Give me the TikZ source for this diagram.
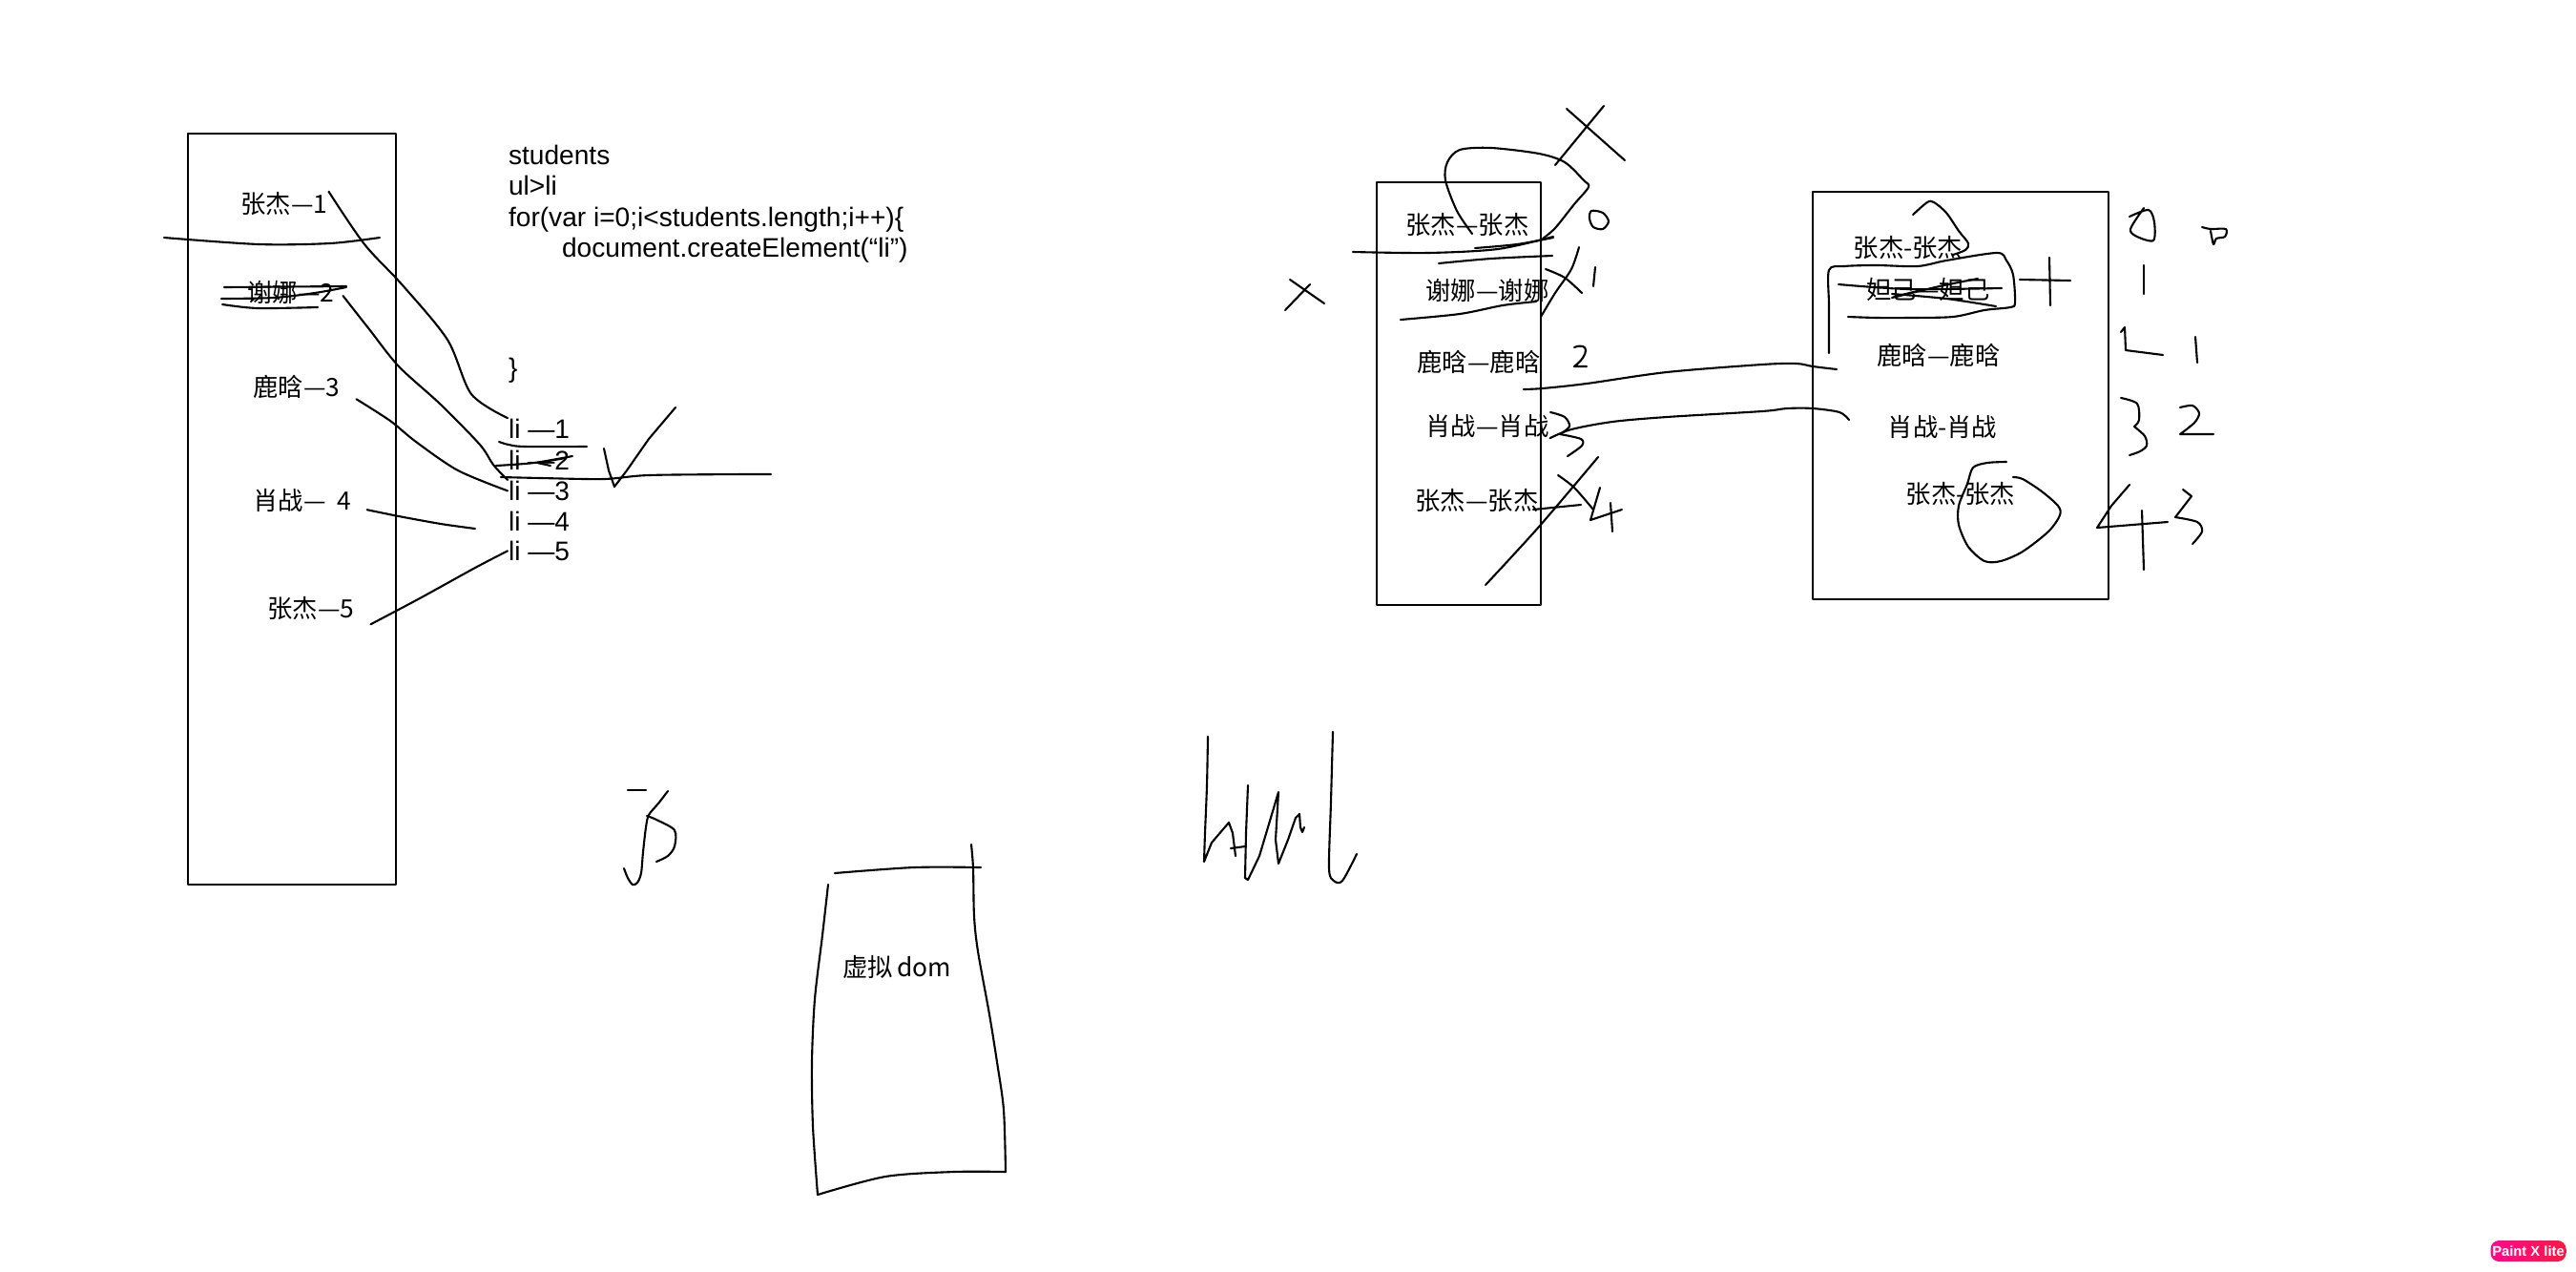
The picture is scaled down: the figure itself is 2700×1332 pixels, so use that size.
\documentclass[tikz,border=0pt]{standalone}
\usepackage{fontspec}
\setmainfont{Liberation Sans}
\newfontfamily\cjk{Noto Sans CJK SC}
\definecolor{badgeleft}{HTML}{FF0A8C}
\definecolor{badgeright}{HTML}{FF1744}

\begin{document}
\begin{tikzpicture}
[x=0.1mm, y=-0.1mm, line width=0.6pt, line cap=round, line join=round,
box/.style={draw, line width=0.7pt},
entry/.style={font=\cjk\fontsize{7.5}{9}\selectfont, inner sep=0pt},
code/.style={font=\fontsize{8}{9.6}\selectfont, inner sep=0pt, anchor=base west},
ink/.style={line width=0.6pt},
badge/.style={rounded corners=2.5pt, left color=badgeleft, right color=badgeright, text=white, font=\bfseries\fontsize{4.2}{5}\selectfont, minimum width=7.9mm, minimum height=2.2mm, inner sep=0pt}]

\path[use as bounding box, fill=white] (0,0) rectangle (2700,1332);

\draw[box] (197,140) rectangle (415,927);
\node[entry] (zj1) at (298,214) {张杰—1};
\node[entry] (xn2) at (305,306) {谢娜—2};
\node[entry] (lh3) at (311,405) {鹿晗—3};
\node[entry] (xz4) at (317,524) {肖战—\hspace{3.5pt}4};
\node[entry] (zj5) at (326,638) {张杰—5};

\node[code] (stu) at (532,172.7) {students};
\node[code] (ulli) at (532,204.4) {ul>li};
\node[code] (forl) at (532,237.7) {for(var i=0;i<students.length;i++)\{};
\node[code] (crel) at (588,269.4) {document.createElement(“li”)};
\node[code] (brace) at (532,395) {\}};
\node[code] (li1) at (532,459.5) {li —1};
\node[code] (li2) at (532,492.4) {li —2};
\node[code] (li3) at (532,524.4) {li —3};
\node[code] (li4) at (532,556) {li —4};
\node[code] (li5) at (532,587.4) {li —5};
\coordinate (tail4) at (498,554);

\draw[ink] plot[smooth] coordinates {(zj1.north east) (382,256) (422,299) (469,356) (494,413) (li1.north west)};
\draw[ink] plot[smooth] coordinates {([shift={(8,4)}]xn2.east) (387,345) (418,384) (462,424) (503,466) (517,487) (li3.north west)};
\draw[ink] plot[smooth] coordinates {([shift={(16,0)}]lh3.south east) (409,441) (436,463) (480,493) (li3.west)};
\draw[ink] plot[smooth] coordinates {([shift={(15,-3)}]xz4.south east) (418,541) (462,549) (tail4)};
\draw[ink] plot[smooth] coordinates {([shift={(16,3)}]zj5.south east) (440,627) (498,595) (li5.west)};

\draw[ink] plot[smooth] coordinates {(172,249) (271,256) (346,255) (398,249)};
\draw[ink] (235,301) -- (363,300);
\draw[ink] plot[smooth] coordinates {(232,313) (287,312) (330,307) (363,301)};
\draw[ink] plot[smooth] coordinates {(233,319) (270,323) (333,322)};
\draw[ink] plot[smooth] coordinates {(523,463) (533,466) (550,468) (615,468)};
\draw[ink] plot[smooth] coordinates {(520,488) (560,485) (600,478)};
\draw[ink] (593,480) -- (563,485) -- (577,488);
\draw[ink] plot[smooth] coordinates {(525,500) (567,501) (633,502) (680,498) (780,497) (808,497)};
\draw[ink] (633,470) -- (638,493) -- (644,510) -- (657,493) -- (680,460) -- (708,427);

\draw[ink] (658,828) -- (677,828);
\draw[ink] plot[smooth] coordinates {(700,829) (690,842) (680,854) (677,867) (674,893) (672,915) (668,925) (663,927) (658,920) (654,910)};
\draw[ink] plot[smooth] coordinates {(678,855) (688,859) (707,870) (707,887) (700,897) (688,903)};

\node[entry] (vdom) at (940,1013) {虚拟\,dom};
\draw[ink] plot[smooth] coordinates {(875,915) (958,909) (1028,909)};
\draw[ink] plot[smooth] coordinates {(868,927) (862,980) (854,1047) (851,1113) (852,1180) (857,1252)};
\draw[ink] plot[smooth] coordinates {(857,1252) (928,1233) (1000,1228) (1054,1228)};
\draw[ink] plot[smooth] coordinates {(1054,1228) (1052,1163) (1045,1113) (1037,1063) (1025,997) (1021,960) (1020,910) (1018,885)};

\draw[ink] plot[smooth] coordinates {(1266,772) (1265,823) (1263,873) (1262,903)} -- (1270,883) -- (1288,862) -- (1292,873) -- (1295,897);
\draw[ink] (1290,889) -- (1305,887);
\draw[ink] (1308,823) -- (1306,873) -- (1305,920) -- (1308,922) -- (1320,897) -- (1340,830) -- (1337,880) -- (1340,905) -- (1350,880) -- (1358,857) -- (1362,853) -- (1363,867) -- (1365,872) -- (1367,867);
\draw[ink] plot[smooth] coordinates {(1397,767) (1395,840) (1393,910) (1398,923) (1407,923) (1422,895)};

\draw[box] (1443,191) rectangle (1615,634);
\node[entry] (m1) at (1538,236) {张杰—张杰};
\node[entry] (m2) at (1559,304) {谢娜—谢娜};
\node[entry] (m3) at (1550,379) {鹿晗—鹿晗};
\node[entry] (m4) at (1559,446) {肖战—肖战};
\node[entry] (m5) at (1548,525) {张杰—张杰};

\draw[box] (1900,201) rectangle (2210,628);
\node[entry] (r1) at (2000,260) {张杰-张杰};
\node[entry] (r2) at (2021,303) {妲己—妲己};
\node[entry] (r3) at (2032,372) {鹿晗—鹿晗};
\node[entry] (r4) at (2036,447) {肖战-肖战};
\node[entry] (r5) at (2055,518) {张杰-张杰};

\coordinate (from3) at (1597,408);
\coordinate (to3) at (1925,387);
\coordinate (to4) at (1938,440);
\draw[ink] plot[smooth] coordinates {(from3) (1617,407) (1663,402) (1747,390) (1847,382) (1883,381) (1900,384) (to3)};
\draw[ink] plot[smooth] coordinates {(m4.south east) (1647,450) (1690,442) (1747,437) (1847,431) (1873,428) (1900,428) (1928,432) (to4)};

\draw[ink] plot[smooth] coordinates {(1543,245) (1527,221) (1515,189) (1517,170) (1530,157) (1563,155) (1613,161) (1640,170) (1660,189) (1665,196) (1650,214) (1630,239) (1617,250)};
\draw[ink] plot[smooth] coordinates {(1418,264) (1497,265) (1570,261) (1628,248)};
\draw[ink] plot[smooth] coordinates {(1546,260) (1590,256) (1628,249)};
\draw[ink] plot[smooth] coordinates {(1508,276) (1563,271) (1627,268)};
\draw[ink] plot[smooth] coordinates {(1468,335) (1530,329) (1575,320) (1610,316)};
\draw[ink] (1681,111) -- (1630,173);
\draw[ink] (1642,114) -- (1703,168);
\draw[ink] plot[smooth cycle] coordinates {(1668,221) (1680,223) (1686,232) (1680,240) (1670,238) (1666,229)};
\draw[ink] plot[smooth] coordinates {(1620,282) (1640,291) (1658,307)};
\draw[ink] plot[smooth] coordinates {(1655,259) (1647,282) (1630,307) (1615,332)};
\draw[ink] (1672,280) -- (1670,300);
\draw[ink] (1650,364) .. controls (1666,358) and (1666,372) .. (1650,384) -- (1663,384);
\draw[ink] plot[smooth] coordinates {(1625,432) (1640,437) (1645,447) (1635,455)};
\draw[ink] plot[smooth] coordinates {(1635,455) (1657,460) (1658,467) (1643,478)};
\draw[ink] plot[smooth] coordinates {(1675,479) (1613,552) (1557,613)};
\draw[ink] plot[smooth] coordinates {(1633,498) (1650,511) (1670,534)};
\draw[ink] (1607,534) -- (1657,529);
\draw[ink] (1677,511) -- (1667,545) -- (1700,534);
\draw[ink] (1688,527) -- (1690,557);
\draw[ink] (1347,325) -- (1373,298);
\draw[ink] (1352,293) -- (1388,318);

\draw[ink] plot[smooth] coordinates {(2005,225) (2020,212) (2027,212) (2040,223) (2053,242) (2063,255) (2060,262) (2047,267)};
\draw[ink] plot[smooth] coordinates {(1917,370) (1917,320) (1917,283) (1933,279) (1967,278) (2010,279) (2040,273) (2093,265) (2103,273) (2110,288) (2112,317) (2107,322) (2080,325) (2047,332) (2000,333) (1967,333) (1937,332)};
\draw[ink] plot[smooth] coordinates {(1927,298) (2000,303) (2098,302)};
\draw[ink] plot[smooth] coordinates {(1983,312) (2033,300) (2073,292)};
\draw[ink] plot[smooth] coordinates {(1983,308) (2040,313) (2092,321)};
\draw[ink] (1985,311) -- (2010,305);
\draw[ink] (2117,293) -- (2170,294);
\draw[ink] (2148,270) -- (2149,320);
\draw[ink] plot[smooth] coordinates {(2247,218) (2233,240) (2240,248) (2257,252) (2258,233) (2252,220) (2232,227)};
\draw[ink] plot[smooth] coordinates {(2308,238) (2317,240) (2333,240) (2332,248) (2323,250) (2320,256) (2317,242)};
\draw[ink] (2247,278) -- (2247,308);
\draw[ink] (2223,348) -- (2227,343) -- (2228,367) -- (2267,372);
\draw[ink] (2301,353) -- (2303,380);
\draw[ink] plot[smooth] coordinates {(2223,417) (2240,423) (2242,440) (2237,447)};
\draw[ink] plot[smooth] coordinates {(2237,447) (2248,457) (2250,467) (2243,473) (2232,477)};
\draw[ink] plot[smooth] coordinates {(2285,427) (2298,425) (2305,433) (2300,443) (2285,455)} -- (2320,455);
\draw[ink] plot[smooth] coordinates {(2103,484) (2083,485) (2068,490) (2062,507) (2053,530) (2053,550) (2063,573) (2080,588) (2097,588) (2120,578) (2147,557) (2159,540) (2157,530) (2140,515) (2120,502) (2110,500)};
\draw[ink] (2232,508) -- (2213,530) -- (2198,553) -- (2272,547);
\draw[ink] (2245,535) -- (2247,597);
\draw[ink] (2288,513) -- (2297,520) -- (2280,542);
\draw[ink] plot[smooth] coordinates {(2280,542) (2303,547) (2308,557) (2298,570)};

\node[badge] (paintx) at (2650,1311) {Paint X lite};
\end{tikzpicture}
\end{document}
